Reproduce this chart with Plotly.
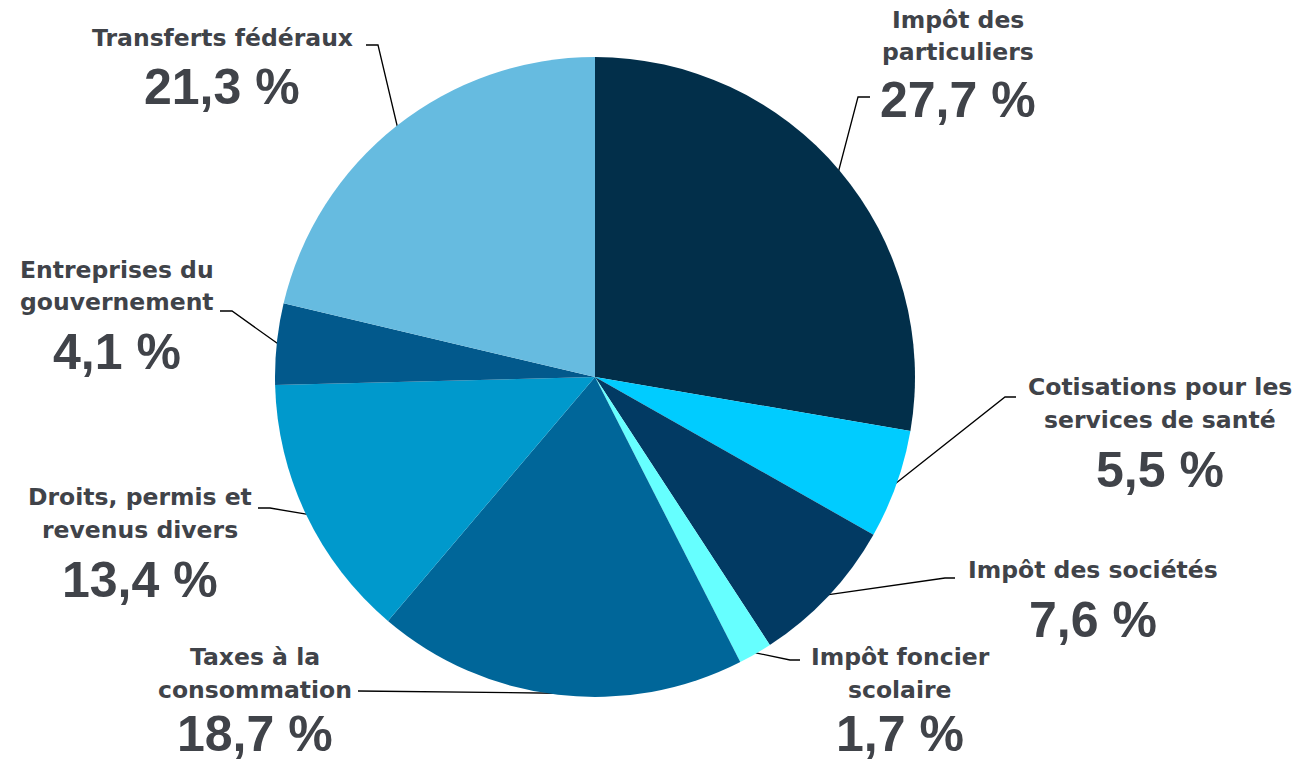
import math
import plotly.graph_objects as go

# ---- data ----
categories = [
    "Impôt des particuliers",
    "Cotisations pour les services de santé",
    "Impôt des sociétés",
    "Impôt foncier scolaire",
    "Taxes à la consommation",
    "Droits, permis et revenus divers",
    "Entreprises du gouvernement",
    "Transferts fédéraux",
]
values = [27.7, 5.5, 7.6, 1.7, 18.7, 13.4, 4.1, 21.3]
label_lines = [
    ["Impôt des", "particuliers"],
    ["Cotisations pour les", "services de santé"],
    ["Impôt des sociétés"],
    ["Impôt foncier", "scolaire"],
    ["Taxes à la", "consommation"],
    ["Droits, permis et", "revenus divers"],
    ["Entreprises du", "gouvernement"],
    ["Transferts fédéraux"],
]
colors = ["#022F4A", "#00CCFF", "#023A63", "#66FFFF",
          "#006699", "#0099CC", "#02598C", "#66BBE0"]

# ---- layout constants (pixels) ----
W, H = 1307, 761
CX, CY, R = 595, 377, 320
TEXT_COLOR = "#404349"

# label placement: (center x, line ys, percent y, elbow, end)
placement = [
    (958, [20, 52], 100, (858, 97), (870, 97)),
    (1160, [387, 420], 470, (1005, 397), (1016, 397)),
    (1093, [570], 620, (945, 578), (955, 578)),
    (900, [657, 690], 734, (790, 660), (800, 660)),
    (255, [657, 690], 734, (370, 691), (358, 691)),
    (140, [497, 530], 580, (270, 508), (258, 508)),
    (117, [270, 302], 352, (232, 311), (220, 311)),
    (222, [38], 87, (378, 45), (366, 45)),
]

fig = go.Figure()
fig.add_trace(go.Pie(
    labels=categories, values=values, sort=False, direction="clockwise",
    rotation=0, textinfo="none", hoverinfo="label+percent",
    marker=dict(colors=colors, line=dict(width=0)),
    domain=dict(x=[(CX - R) / W, (CX + R) / W],
                y=[(H - CY - R) / H, (H - CY + R) / H]),
    showlegend=False,
))

total = sum(values)
cum = 0.0
annotations = []
for i, v in enumerate(values):
    mid = (cum + v / 2) / total * 2 * math.pi
    cum += v
    sx = CX + R * 0.995 * math.sin(mid)
    sy = CY - R * 0.995 * math.cos(mid)
    cx, ys, py, elbow, end = placement[i]
    fig.add_trace(go.Scatter(
        x=[sx, elbow[0], end[0]], y=[sy, elbow[1], end[1]],
        mode="lines", line=dict(color="#000000", width=1.3),
        hoverinfo="skip", showlegend=False))
    for line, y in zip(label_lines[i], ys):
        annotations.append(dict(
            x=cx, y=y, xref="x", yref="y", text=line, showarrow=False,
            xanchor="center", yanchor="middle",
            font=dict(family="DejaVu Sans", size=23.5, color=TEXT_COLOR,
                      weight="bold")))
    pct = f"{v:.1f}".replace(".", ",") + " %"
    annotations.append(dict(
        x=cx, y=py, xref="x", yref="y", text=pct, showarrow=False,
        xanchor="center", yanchor="middle",
        font=dict(family="Liberation Sans", size=50, color=TEXT_COLOR,
                  weight="bold")))

fig.update_layout(
    width=W, height=H, margin=dict(l=0, r=0, t=0, b=0),
    paper_bgcolor="white", plot_bgcolor="rgba(0,0,0,0)",
    xaxis=dict(range=[0, W], visible=False, domain=[0, 1], fixedrange=True),
    yaxis=dict(range=[H, 0], visible=False, domain=[0, 1], fixedrange=True),
    annotations=annotations,
)
fig.write_html("out.html",
               config={"displayModeBar": False},
               post_script="document.body.style.margin='0';"
                           "document.body.style.overflow='hidden';")
